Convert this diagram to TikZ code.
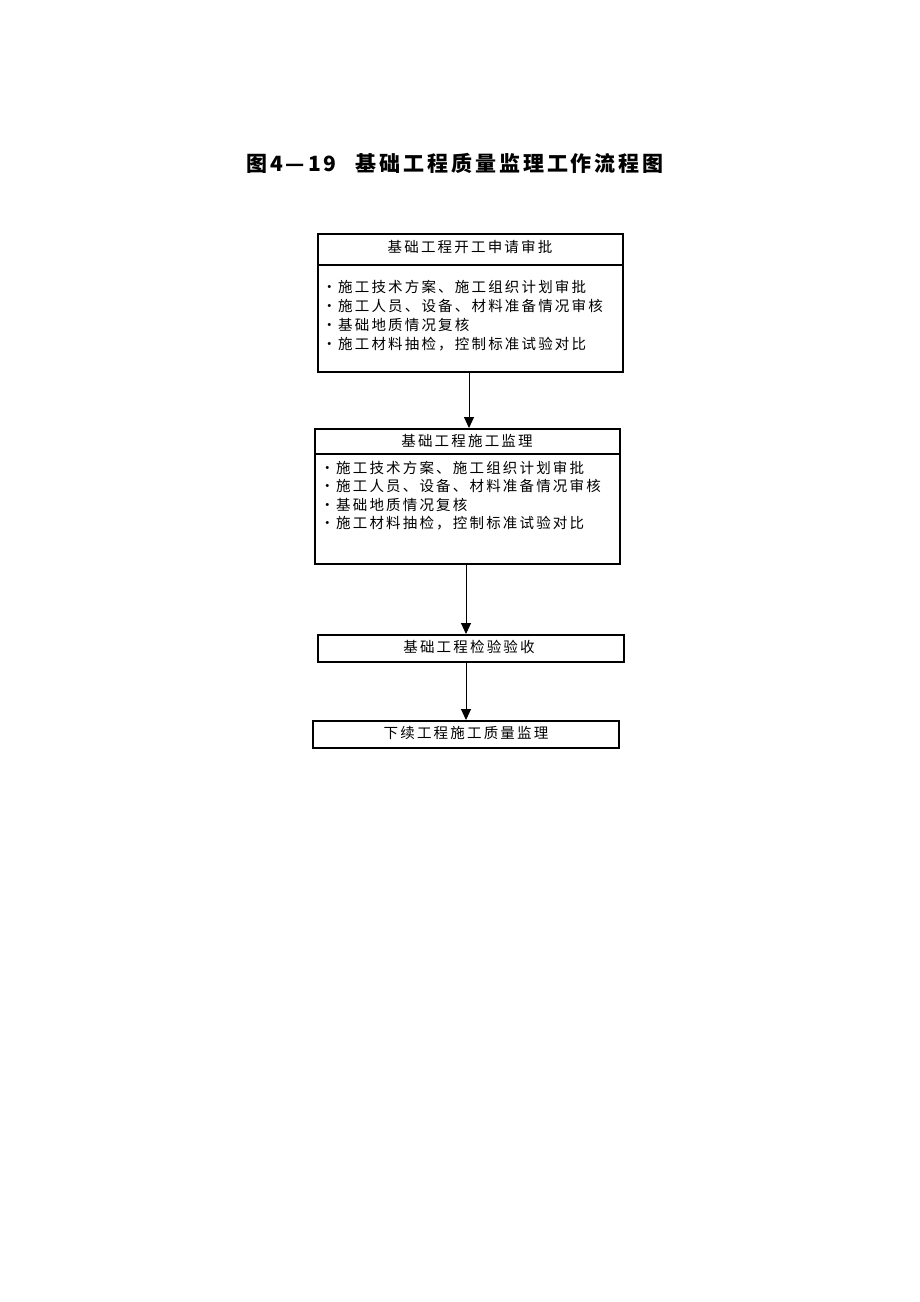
\documentclass[tikz,border=0pt]{standalone}
\usepackage{fontspec}
\usetikzlibrary{arrows.meta}
\newfontfamily\cjk[LetterSpace=15]{Noto Sans CJK SC}
\newfontfamily\cjktitle[LetterSpace=14]{Noto Sans CJK SC}
\tikzset{
  boxframe/.style={draw=black, line width=2pt, rectangle, inner sep=0pt},
  headtext/.style={font=\cjk\fontsize{14.5}{18}\selectfont, inner sep=0pt},
  bodytext/.style={font=\cjk\fontsize{14.5}{19}\selectfont, align=left, inner sep=0pt, anchor=west},
  flowarrow/.style={draw=black, line width=1pt, -{Triangle[length=11pt,width=10pt]}},
  divider/.style={draw=black, line width=1.6pt}
}
\newcommand{\bul}{\makebox[16pt][l]{•}}
\begin{document}
\begin{tikzpicture}[x=1pt,y=-1pt]
\useasboundingbox[fill=white] (0,0) rectangle (920,1302);

% title
\node[font=\cjktitle\bfseries\fontsize{21}{24}\selectfont, inner sep=0pt, anchor=west] (title) at (246,163) {图4—19\hspace{19pt}基础工程质量监理工作流程图};

% box 1
\node[boxframe, minimum width=305pt, minimum height=138pt] (b1) at (470.5,303) {};
\draw[divider] (318,265) -- (623,265);
\node[headtext] (b1h) at (470,247) {基础工程开工申请审批};
\node[bodytext] (b1t) at (322,315.5) {\bul 施工技术方案、施工组织计划审批\\
\bul 施工人员、设备、材料准备情况审核\\
\bul 基础地质情况复核\\
\bul 施工材料抽检，控制标准试验对比};

% box 2
\node[boxframe, minimum width=305pt, minimum height=135pt] (b2) at (467.5,496.5) {};
\draw[divider] (315,454) -- (620,454);
\node[headtext] (b2h) at (467,441) {基础工程施工监理};
\node[bodytext, font=\cjk\fontsize{14.5}{18.5}\selectfont] (b2t) at (320,495.5) {\bul 施工技术方案、施工组织计划审批\\
\bul 施工人员、设备、材料准备情况审核\\
\bul 基础地质情况复核\\
\bul 施工材料抽检，控制标准试验对比};

% box 3
\node[boxframe, minimum width=306pt, minimum height=27pt] (b3) at (470.5,648.5) {};
\node[headtext] (b3t) at (469,647) {基础工程检验验收};

% box 4
\node[boxframe, minimum width=306pt, minimum height=27pt] (b4) at (466,734.5) {};
\node[headtext] (b4t) at (466,733) {下续工程施工质量监理};

% arrows
\draw[flowarrow] (b1.south -| 469,0) -- (b2.north -| 469,0);
\draw[flowarrow] (b2.south -| 466,0) -- (b3.north -| 466,0);
\draw[flowarrow] (b3.south -| 466,0) -- (b4.north -| 466,0);
\end{tikzpicture}
\end{document}
